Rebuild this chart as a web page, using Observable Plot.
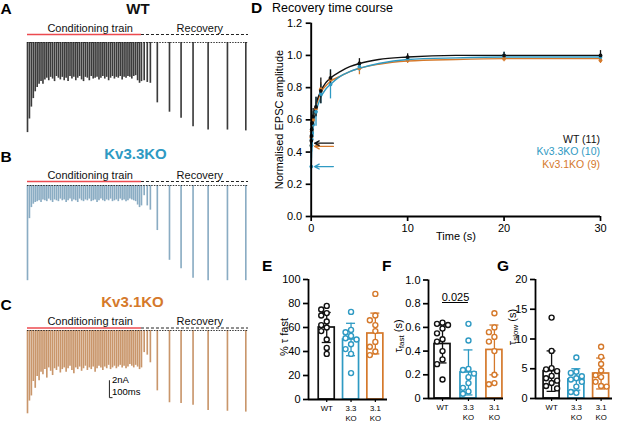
<!DOCTYPE html>
<html><head><meta charset="utf-8">
<script src="https://cdn.jsdelivr.net/npm/d3@7"></script>
<script src="https://cdn.jsdelivr.net/npm/@observablehq/plot@0.6"></script>
<style>
body{margin:0;background:#fff;}
#fig{position:relative;width:617px;height:422px;overflow:hidden;font-family:"Liberation Sans",Arial,Helvetica,sans-serif;background:#fff;}
#fig svg{position:absolute;}
</style></head><body><div id="fig"></div>
<script>
// ---------- colours ----------
const C_WT = "#111111", C_33 = "#2f9ac3", C_31 = "#d5792b";
const TRACE_WT = "#3b3b3b", TRACE_33 = "#8aacc3", TRACE_31 = "#c9966b";
const seriesNames = ["WT", "Kv3.3KO", "Kv3.1KO"];

// ---------- A-C: example traces (EPSC amplitudes, nA) ----------
const trainWT = [10.6, 9.0, 7.6, 6.6, 5.8, 5.3, 4.9, 4.6, 4.9, 4.4,
  4.2, 4.5, 4.1, 4.3, 4.6, 4.0, 4.2, 4.4, 4.1, 4.5,
  4.2, 4.6, 4.0, 4.3, 4.1, 4.5, 4.2, 4.0, 4.4, 4.6,
  4.1, 4.2, 4.5, 4.0, 4.3, 4.2, 4.1, 4.4, 4.2, 4.0,
  4.3, 4.1, 4.5, 4.2, 4.0, 4.3, 4.1, 4.2, 4.0, 4.4,
  4.1, 4.2, 4.0, 4.1, 4.3, 4.0, 3.9, 4.5, 4.8, 4.6];
const trainKv33 = [11.2, 3.9, 2.6, 2.2, 2.0, 1.9, 1.8, 2.0, 1.7, 1.8,
  1.9, 1.6, 1.8, 2.0, 1.7, 1.8, 1.9, 1.6, 1.8, 1.7,
  2.0, 1.8, 1.6, 1.9, 1.7, 1.8, 2.0, 1.6, 1.8, 1.9,
  1.7, 1.8, 1.6, 1.9, 1.8, 1.7, 2.0, 1.8, 1.6, 1.8,
  1.9, 1.7, 1.8, 1.6, 1.9, 1.8, 1.7, 1.9, 1.6, 1.8,
  1.7, 1.9, 1.8, 1.6, 1.7, 1.8, 1.9, 2.3, 2.6, 2.4];
const trainKv31 = [9.8, 8.3, 7.7, 6.0, 6.8, 5.4, 5.9, 4.9, 5.2, 4.6,
  5.6, 4.4, 4.8, 5.3, 4.5, 4.7, 4.3, 5.0, 4.6, 4.4,
  4.9, 4.5, 4.2, 4.7, 5.1, 4.4, 4.6, 4.3, 4.8, 4.5,
  4.2, 4.7, 4.4, 4.6, 4.3, 4.9, 4.5, 4.2, 4.4, 4.7,
  4.3, 4.5, 4.1, 4.6, 4.4, 4.2, 4.5, 4.3, 4.1, 4.4,
  4.2, 4.5, 4.3, 4.0, 4.2, 4.4, 4.1, 4.3, 4.6, 4.4];
const trainInterval = 10;            // sweep units between train stimuli
const recoveryTimes = [604, 620, 636, 672, 735, 795, 857, 935, 1035, 1130];
const recoveryWT   = [4.5, 4.7, 4.8, 7.1, 8.2, 8.9, 9.9, 10.3, 10.3, 10.4];
const recoveryKv33 = [1.2, 2.4, 2.9, 5.3, 8.8, 9.8, 10.9, 11.2, 11.2, 11.2];
const recoveryKv31 = [2.6, 2.9, 3.8, 7.1, 8.5, 8.6, 8.8, 9.4, 9.5, 9.6];
const sweepEnd = 1144;
const scaleBarNA = 2;

// ---------- D: recovery time course ----------
const recTimes = [0.01, 0.02, 0.05, 0.1, 0.2, 0.5, 1, 2, 5, 10, 20, 30];
const recMeanWT   = [0.47, 0.50, 0.54, 0.58, 0.62, 0.68, 0.78, 0.86, 0.95, 0.99, 1.00, 1.00];
const recErrWT    = [0.05, 0.05, 0.05, 0.05, 0.05, 0.06, 0.08, 0.05, 0.03, 0.02, 0.02, 0.03];
const recMeanKv33 = [0.31, 0.44, 0.48, 0.52, 0.57, 0.65, 0.76, 0.82, 0.93, 0.98, 1.00, 0.99];
const recErrKv33  = [0.10, 0.08, 0.08, 0.08, 0.08, 0.09, 0.06, 0.09, 0.03, 0.02, 0.02, 0.02];
const recMeanKv31 = [0.44, 0.49, 0.53, 0.57, 0.60, 0.67, 0.79, 0.85, 0.92, 0.97, 0.98, 0.97];
const recErrKv31  = [0.05, 0.05, 0.05, 0.05, 0.05, 0.04, 0.04, 0.04, 0.04, 0.02, 0.02, 0.02];
const fitTimes = [0, 0.1, 0.25, 0.5, 1, 1.5, 2, 3, 4, 5, 7, 10, 15, 20, 25, 30];
const fitWT   = [0.45, 0.57, 0.63, 0.70, 0.78, 0.83, 0.86, 0.90, 0.93, 0.95, 0.975, 0.99, 1.00, 1.00, 1.00, 1.00];
const fitKv33 = [0.30, 0.50, 0.58, 0.65, 0.74, 0.79, 0.82, 0.87, 0.90, 0.92, 0.95, 0.975, 0.985, 0.99, 0.99, 0.99];
const fitKv31 = [0.44, 0.56, 0.62, 0.68, 0.77, 0.81, 0.84, 0.87, 0.90, 0.92, 0.945, 0.965, 0.975, 0.98, 0.98, 0.98];
const steadyState = [0.455, 0.31, 0.435];   // arrows (WT, Kv3.3KO, Kv3.1KO)
const legendLabels = ["WT (11)", "Kv3.3KO (10)", "Kv3.1KO (9)"];

// ---------- E-G: summary ----------
const groupLabels = ["WT", "3.3\nKO", "3.1\nKO"];
const pctFastWT   = [78, 75, 72, 70, 65, 62, 60, 57, 50, 43, 38];
const pctFastKv33 = [73, 58, 56, 53, 51, 50, 46, 42, 38, 22];
const pctFastKv31 = [88, 70, 66, 62, 57, 48, 44, 40, 37];
const pctFastMean = [60, 50, 55];
const pctFastSD   = [12.5, 13.5, 17];
const tauFastWT   = [0.64, 0.63, 0.62, 0.59, 0.55, 0.50, 0.48, 0.40, 0.33, 0.29, 0.16];
const tauFastKv33 = [0.63, 0.49, 0.25, 0.24, 0.21, 0.18, 0.13, 0.09, 0.06, 0.04];
const tauFastKv31 = [0.72, 0.60, 0.56, 0.52, 0.48, 0.40, 0.20, 0.13, 0.12];
const tauFastMean = [0.46, 0.22, 0.41];
const tauFastSD   = [0.16, 0.19, 0.21];
const tauSlowWT   = [13.6, 8.0, 5.1, 4.9, 4.6, 3.8, 3.4, 3.0, 2.6, 2.1, 1.7];
const tauSlowKv33 = [6.9, 4.5, 4.3, 3.75, 3.4, 3.2, 2.8, 2.0, 1.1, 0.95];
const tauSlowKv31 = [8.7, 7.0, 5.8, 4.7, 3.9, 3.6, 2.8, 2.1, 2.0];
const tauSlowMean = [4.6, 3.2, 4.2];
const tauSlowSD   = [3.4, 1.8, 2.6];
const sigF = [{from: 0, to: 1, p: "0.025", y: 0.81}];

const FONT = "Liberation Sans, Arial, Helvetica, sans-serif";
const fig = document.getElementById("fig");
function place(svg, left, top) { svg.style.left = left + "px"; svg.style.top = top + "px"; fig.appendChild(svg); }
const baseStyle = {fontFamily: FONT, background: "none", overflow: "visible", color: "#000"};

// ---------- traces ----------
function tracePlot(train, rec, color, markOffset, scaleBar) {
  const pulses = train.map((a, i) => ({t: i * trainInterval, a}))
    .concat(recoveryTimes.map((t, i) => ({t, a: rec[i]})));
  const trainEnd = (train.length - 1) * trainInterval;
  const marks = [
    Plot.ruleX(pulses, {x: "t", y1: 0, y2: d => -d.a, stroke: color, strokeWidth: 1.65}),
    Plot.ruleY([0], {x1: 0, x2: sweepEnd, stroke: "#222", strokeWidth: 0.9, strokeDasharray: "1.5,1.2"}),
    Plot.ruleY([0], {x1: 0, x2: trainEnd, stroke: "#ec4a4f", strokeWidth: 1.6, dy: -markOffset}),
    Plot.ruleY([0], {x1: trainEnd, x2: sweepEnd, stroke: "#222", strokeWidth: 1, strokeDasharray: "3,2", dy: -markOffset}),
    Plot.text(["Conditioning train"], {x: trainEnd * 0.55, y: 0, text: d => d, dy: -markOffset - 3, lineAnchor: "bottom", fontSize: 11, fill: "#111"}),
    Plot.text(["Recovery"], {x: (trainEnd + sweepEnd) / 2 + 25, y: 0, text: d => d, dy: -markOffset - 3, lineAnchor: "bottom", fontSize: 11, fill: "#111"})
  ];
  if (scaleBar) {
    marks.push(Plot.line([[scaleBar.x, scaleBar.y + scaleBarNA], [scaleBar.x, scaleBar.y], [scaleBar.x + scaleBar.w, scaleBar.y]],
      {stroke: "#222", strokeWidth: 1}));
  }
  return Plot.plot({
    width: 252, height: 125, margin: 0,
    x: {domain: [0, sweepEnd], range: [27, 248], axis: null},
    y: {domain: [0, -11], range: [22, 22 + 8.5 * 11], axis: null},
    style: baseStyle,
    marks
  });
}
place(tracePlot(trainWT, recoveryWT, TRACE_WT, 8), 0, 20);
place(tracePlot(trainKv33, recoveryKv33, TRACE_33, 4), 0, 163);
place(tracePlot(trainKv31, recoveryKv31, TRACE_31, 2.5, {x: 424, y: -7.9, w: 14}), 0, 308);

// ---------- D ----------
const dColors = [C_WT, C_33, C_31];
const means = [recMeanWT, recMeanKv33, recMeanKv31];
const errs = [recErrWT, recErrKv33, recErrKv31];
const fits = [fitWT, fitKv33, fitKv31];
const drawOrder = [2, 1, 0];
const ptRows = [], fitRows = [];
for (const s of drawOrder) {
  recTimes.forEach((t, i) => ptRows.push({s: seriesNames[s], t, m: means[s][i], e: errs[s][i]}));
  fitTimes.forEach((t, i) => fitRows.push({s: seriesNames[s], t, v: fits[s][i]}));
}
const arrowRows = drawOrder.map(s => ({s: seriesNames[s], v: steadyState[s]}));
const plotD = Plot.plot({
  width: 397, height: 245, marginLeft: 90.7, marginRight: 17, marginTop: 22.7, marginBottom: 29,
  x: {domain: [0, 30]},
  y: {domain: [0, 1.2]},
  color: {domain: seriesNames, range: dColors},
  style: {...baseStyle, fontSize: "11px"},
  marks: [
    Plot.axisX({ticks: [0, 10, 20, 30], tickSize: 5, tickPadding: 3, strokeWidth: 1.7, fontSize: 11, label: null}),
    Plot.axisY({ticks: [0, 0.2, 0.4, 0.6, 0.8, 1.0, 1.2], tickFormat: d3.format(".1f"), tickSize: 5, tickPadding: 4, strokeWidth: 1.7, fontSize: 11, label: null}),
    Plot.line(fitRows, {x: "t", y: "v", z: "s", stroke: "s", curve: "monotone-x", strokeWidth: 1.4}),
    Plot.ruleX(ptRows, {x: "t", y1: d => d.m - d.e, y2: d => d.m + d.e, stroke: "s", strokeWidth: 1.3}),
    Plot.dot(ptRows, {x: "t", y: "m", fill: "s", r: 1.9}),
    Plot.arrow(arrowRows, {x1: 2.3, x2: 0.35, y1: "v", y2: "v", stroke: "s", strokeWidth: 1.3, headLength: 6, headAngle: 55}),
    Plot.ruleY([0], {stroke: "#000", strokeWidth: 1.9}),
    Plot.ruleX([0], {stroke: "#000", strokeWidth: 1.9})
  ]
});
place(plotD, 220, 0);

// ---------- E-G ----------
const groupColors = [C_WT, C_33, C_31];
const CANDS = [0, -5.5, 5.5, -3, 3, -8.5, 8.5, -11, 11];
function barPanel({sets, mean, sd, yMax, yTicks, tickFmt, xDom, width, height, mL, mR, mT, mB, sig}) {
  const ppu = (width - mL - mR) / (xDom[1] - xDom[0]);
  const ppy = (height - mT - mB) / yMax;
  const pts = [];
  sets.forEach((vals, g) => {
    const placed = [];
    vals.slice().sort((a, b) => b - a).forEach(v => {
      const py = v * ppy;
      let off = 0;
      for (const c of CANDS) {
        if (placed.every(p => Math.hypot(p.x - c, p.y - py) >= 5.4)) { off = c; break; }
      }
      placed.push({x: off, y: py});
      pts.push({g, v, x: g + off / ppu});
    });
  });
  const bars = mean.map((m, g) => ({g, m, sd: sd[g]}));
  const hw = 8 / ppu, cw = 4.5 / ppu;
  const col = d => groupColors[d.g];
  const marks = [
    Plot.axisY({ticks: yTicks, tickFormat: tickFmt, tickSize: 5, tickPadding: 3, strokeWidth: 1.7, fontSize: 11, label: null}),
    Plot.axisX({ticks: [0, 1, 2], tickFormat: i => groupLabels[i], tickSize: 3, tickPadding: 1, strokeWidth: 1.2, fontSize: 7.8, lineHeight: 1.3, label: null}),
    Plot.rect(bars, {x1: d => d.g - hw, x2: d => d.g + hw, y1: 0, y2: "m", fill: "white", stroke: col, strokeWidth: 1.7}),
    Plot.ruleX(bars, {x: "g", y1: d => d.m - d.sd, y2: d => d.m + d.sd, stroke: col, strokeWidth: 1.3}),
    Plot.ruleY(bars, {y: d => d.m + d.sd, x1: d => d.g - cw, x2: d => d.g + cw, stroke: col, strokeWidth: 1.3}),
    Plot.ruleY(bars, {y: d => d.m - d.sd, x1: d => d.g - cw, x2: d => d.g + cw, stroke: col, strokeWidth: 1.3}),
    Plot.dot(pts, {x: "x", y: "v", r: 2.5, stroke: col, fill: "white", strokeWidth: 1.4}),
    Plot.ruleY([0], {stroke: "#000", strokeWidth: 1.8}),
    Plot.ruleX([xDom[0]], {y1: 0, y2: yMax, stroke: "#000", strokeWidth: 1.8})
  ];
  if (sig) {
    marks.push(Plot.ruleY(sig, {y: "y", x1: "from", x2: "to", stroke: "#000", strokeWidth: 1}));
    marks.push(Plot.text(sig, {x: d => (d.from + d.to) / 2, y: "y", text: "p", dy: -2, lineAnchor: "bottom", fontSize: 11}));
  }
  return Plot.plot({
    width, height, marginLeft: mL, marginRight: mR, marginTop: mT, marginBottom: mB,
    x: {domain: xDom}, y: {domain: [0, yMax]},
    color: {type: "identity"},
    style: {...baseStyle, fontSize: "11px"},
    marks
  });
}
place(barPanel({sets: [pctFastWT, pctFastKv33, pctFastKv31], mean: pctFastMean, sd: pctFastSD,
  yMax: 100, yTicks: [0, 20, 40, 60, 80, 100], tickFmt: d3.format("d"), xDom: [-0.75, 2.5],
  width: 130, height: 157, mL: 46, mR: 5, mT: 14, mB: 23}), 262, 265);
place(barPanel({sets: [tauFastWT, tauFastKv33, tauFastKv31], mean: tauFastMean, sd: tauFastSD,
  yMax: 1, yTicks: [0, 0.2, 0.4, 0.6, 0.8, 1.0], tickFmt: v => v === 0 ? "0" : v.toFixed(1), xDom: [-0.54, 2.35],
  width: 116, height: 157, mL: 36, mR: 5, mT: 14.5, mB: 24, sig: sigF}), 392, 265);
place(barPanel({sets: [tauSlowWT, tauSlowKv33, tauSlowKv31], mean: tauSlowMean, sd: tauSlowSD,
  yMax: 20, yTicks: [0, 5, 10, 15, 20], tickFmt: d3.format("d"), xDom: [-0.65, 2.46],
  width: 109, height: 157, mL: 27, mR: 5, mT: 14, mB: 24}), 508, 265);

// ---------- text overlay ----------
const NS = "http://www.w3.org/2000/svg";
const ov = document.createElementNS(NS, "svg");
ov.setAttribute("width", 617); ov.setAttribute("height", 422);
ov.style.left = "0px"; ov.style.top = "0px"; ov.style.pointerEvents = "none";
ov.setAttribute("font-family", FONT);
fig.appendChild(ov);
function txt(x, y, str, o = {}) {
  const t = document.createElementNS(NS, "text");
  t.setAttribute("x", x); t.setAttribute("y", y);
  t.setAttribute("font-size", o.size || 11);
  if (o.bold) t.setAttribute("font-weight", "bold");
  t.setAttribute("fill", o.fill || "#000");
  if (o.anchor) t.setAttribute("text-anchor", o.anchor);
  if (o.rot) {
    t.setAttribute("x", 0); t.setAttribute("y", 0);
    t.setAttribute("transform", `translate(${x},${y}) rotate(-90)`);
    t.setAttribute("text-anchor", "middle"); t.setAttribute("dy", "0.35em");
  }
  if (o.parts) {
    for (const p of o.parts) {
      const s = document.createElementNS(NS, "tspan");
      s.textContent = p.t;
      if (p.size) s.setAttribute("font-size", p.size);
      if (p.dy) s.setAttribute("dy", p.dy);
      t.appendChild(s);
    }
  } else t.textContent = str;
  ov.appendChild(t);
}
// panel letters
[["A", 0.5, 14], ["B", 0.5, 162], ["C", 0.5, 310], ["D", 251, 13], ["E", 262, 271], ["F", 382, 271], ["G", 497, 271]]
  .forEach(([l, x, y]) => txt(x, y, l, {size: 15.5, bold: true}));
// trace titles
txt(138, 13.5, "WT", {size: 15, bold: true, anchor: "middle", fill: C_WT});
txt(135.5, 159, "Kv3.3KO", {size: 15, bold: true, anchor: "middle", fill: C_33});
txt(132.5, 307, "Kv3.1KO", {size: 15, bold: true, anchor: "middle", fill: C_31});
// scale bar labels
txt(112, 383, "2nA", {size: 9.5});
txt(112, 394.5, "100ms", {size: 9.5});
// D texts
txt(272, 11.5, "Recovery time course", {size: 12.5});
txt(456, 240, "Time (s)", {size: 11, anchor: "middle"});
txt(279, 119.5, "Normalised EPSC amplitude", {size: 11, rot: true});
legendLabels.forEach((l, i) => txt(600, [142.5, 155, 167.5][i], l, {size: 10.5, anchor: "end", fill: dColors[i]}));
// E-G y labels
txt(284, 337, "% τ fast", {size: 11, rot: true});
txt(398, 336, "", {size: 11, rot: true, parts: [{t: "τ"}, {t: "fast", size: 8, dy: 2}, {t: " (s)", dy: -2}]});
txt(512, 327, "", {size: 11, rot: true, parts: [{t: "τ"}, {t: "slow", size: 8, dy: 2}, {t: " (s)", dy: -2}]});
</script></body></html>
